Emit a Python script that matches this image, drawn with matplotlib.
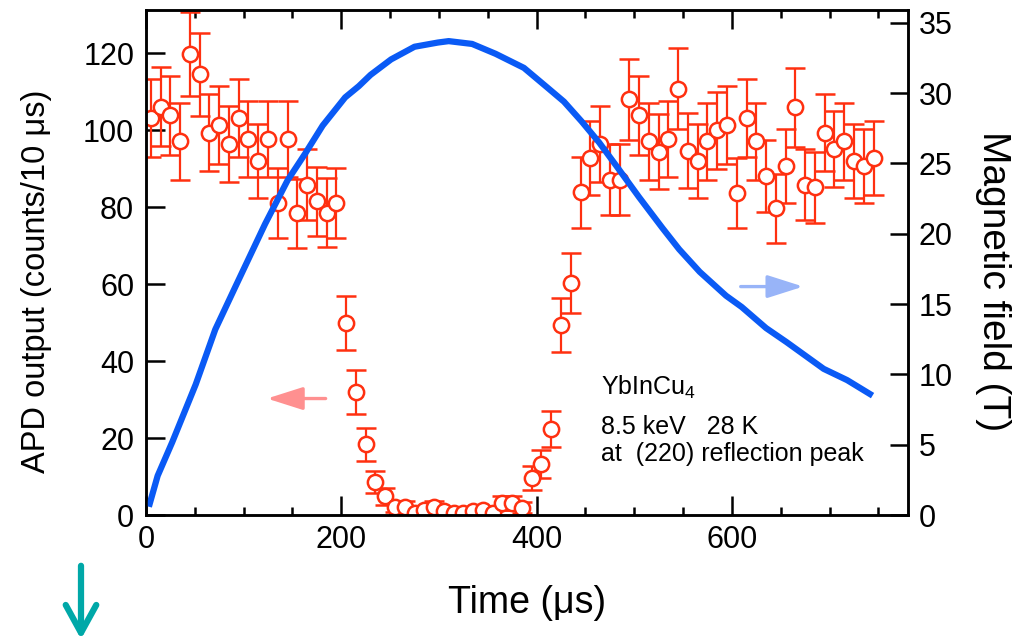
import matplotlib
matplotlib.use("Agg")
import matplotlib.pyplot as plt
from matplotlib.ticker import MultipleLocator

plt.rcParams['font.family'] = ['Liberation Sans', 'DejaVu Sans']
plt.rcParams['mathtext.fontset'] = 'custom'
plt.rcParams['mathtext.rm'] = 'Liberation Sans'
plt.rcParams['mathtext.it'] = 'Liberation Sans'

# APD counts vs time (us)
time_us = [5, 15, 25, 35, 45, 55, 65, 75, 85, 95,
           105, 115, 125, 135, 145, 155, 165, 175, 185, 195,
           205, 215, 225, 235, 245, 255, 265, 275, 285, 295,
           305, 315, 325, 335, 345, 355, 365, 375, 385, 395,
           405, 415, 425, 435, 445, 455, 465, 475, 485, 495,
           505, 515, 525, 535, 545, 555, 565, 575, 585, 595,
           605, 615, 625, 635, 645, 655, 665, 675, 685, 695,
           705, 715, 725, 735, 745]
counts = [103.2, 106.1, 103.9, 97.1, 119.7, 114.5, 99.3, 101.3, 96.4, 103.2,
          97.8, 92.0, 97.8, 81.1, 97.8, 78.4, 85.9, 81.5, 78.6, 81.1,
          49.9, 32.0, 18.4, 8.7, 4.9, 2.2, 2.2, 0.5, 1.3, 2.2,
          1.0, 0.5, 0.5, 1.0, 1.3, 0.5, 3.2, 3.2, 1.9, 9.7,
          13.2, 22.3, 49.4, 60.2, 83.9, 92.9, 96.4, 87.2, 87.2, 108.0,
          103.9, 97.1, 94.4, 97.8, 110.8, 94.7, 92.0, 97.1, 100.0, 101.3,
          83.7, 103.2, 97.1, 88.1, 79.7, 90.7, 106.0, 85.9, 85.2, 99.3,
          95.1, 97.1, 92.0, 90.7, 92.9]
count_err = [10.2, 10.3, 10.2, 9.9, 10.9, 10.7, 10.0, 10.1, 9.8, 10.2,
             9.9, 9.6, 9.9, 9.0, 9.9, 8.9, 9.3, 9.0, 8.9, 9.0,
             7.1, 5.7, 4.3, 2.9, 2.2, 1.5, 1.5, 0.7, 1.1, 1.5,
             1.0, 0.7, 0.7, 1.0, 1.1, 0.7, 1.8, 1.8, 1.4, 3.1,
             3.6, 4.7, 7.0, 7.8, 9.2, 9.6, 9.8, 9.3, 9.3, 10.4,
             10.2, 9.9, 9.7, 9.9, 10.5, 9.7, 9.6, 9.9, 10.0, 10.1,
             9.1, 10.2, 9.9, 9.4, 8.9, 9.5, 10.3, 9.3, 9.2, 10.0,
             9.8, 9.9, 9.6, 9.5, 9.6]

# pulsed magnetic field (T)
field_t = [3, 12, 27, 51, 71, 92, 107, 122, 145, 163, 181, 204, 218, 230,
           251, 275, 299, 310, 334, 358, 387, 411, 428, 446, 464, 482, 505,
           529, 546, 567, 594, 610, 635, 656, 676, 694, 718, 744]
field_T = [0.6, 2.8, 5.2, 9.3, 13.2, 16.3, 18.5, 20.7, 23.8, 25.7, 27.7,
           29.7, 30.5, 31.3, 32.4, 33.3, 33.6, 33.7, 33.5, 32.8, 31.8, 30.4,
           29.4, 28.0, 26.5, 24.8, 22.6, 20.4, 18.9, 17.3, 15.6, 14.8, 13.3,
           12.3, 11.3, 10.4, 9.6, 8.5]

red = '#ff3010'
blue = '#0a5af5'

fig = plt.figure(figsize=(10.35, 6.36), dpi=100)
ax = fig.add_axes([0.141, 0.190, 0.736, 0.794])
ax2 = ax.twinx()

ax.errorbar(time_us, counts, yerr=count_err, fmt='o', color=red, mfc='white',
            mec=red, ms=11, mew=1.8, elinewidth=1.6, capsize=7.5, capthick=1.6)
ax2.plot(field_t, field_T, color=blue, lw=4.5, solid_capstyle='butt')

ax.set_xlim(0, 780)
ax.set_ylim(0, 131.2)
ax2.set_ylim(0, 35.9)

ax.xaxis.set_major_locator(MultipleLocator(200))
ax.xaxis.set_minor_locator(MultipleLocator(50))
ax.yaxis.set_major_locator(MultipleLocator(20))
ax2.yaxis.set_major_locator(MultipleLocator(5))

ax.tick_params(which='major', direction='in', length=14, width=1.8,
               labelsize=22, top=True, right=False)
ax.tick_params(which='minor', direction='in', length=6, width=1.8, top=True)
ax.tick_params(axis='x', pad=7)
ax.tick_params(axis='y', pad=8.5)
ax2.tick_params(which='major', direction='in', length=13, width=1.8,
                labelsize=22, pad=8)

for a in (ax, ax2):
    for s in a.spines.values():
        s.set_linewidth(1.8)

ax.set_xlabel('Time (μs)', fontsize=27, labelpad=22)
ax.set_ylabel('APD output (counts/10 μs)', fontsize=23.5, labelpad=22)
ax2.set_ylabel('Magnetic field (T)', fontsize=28, rotation=270, labelpad=42)
ax.yaxis.label.set_y(0.463)
ax2.yaxis.label.set_y(0.463)

# direction arrows
ax.annotate('', xy=(124, 30.3), xytext=(184, 30.3),
            arrowprops=dict(arrowstyle='-|>,head_length=1.1,head_width=0.35',
                            color='#ff9090', lw=2.4, mutation_scale=20,
                            shrinkA=0, shrinkB=0))
ax2.annotate('', xy=(673, 16.25), xytext=(609, 16.25),
             arrowprops=dict(arrowstyle='-|>,head_length=1.1,head_width=0.35',
                             color='#98b4f8', lw=2.4, mutation_scale=20,
                             shrinkA=0, shrinkB=0))

ax.text(466, 31.2, 'YbInCu$_4$', fontsize=18, va='baseline')
ax.text(466, 21.0, '8.5 keV   28 K', fontsize=18, va='baseline')
ax.text(466, 14.2, 'at  (220) reflection peak', fontsize=18, va='baseline')

# teal marker arrow at lower left
fig.patches.append(matplotlib.patches.FancyArrowPatch(
    (81, 73), (81, -6), transform=None,
    arrowstyle='->,head_length=1.0,head_width=0.55', color='#00a8a8', lw=4.5,
    mutation_scale=20))

fig.savefig('out.png', dpi=100)
